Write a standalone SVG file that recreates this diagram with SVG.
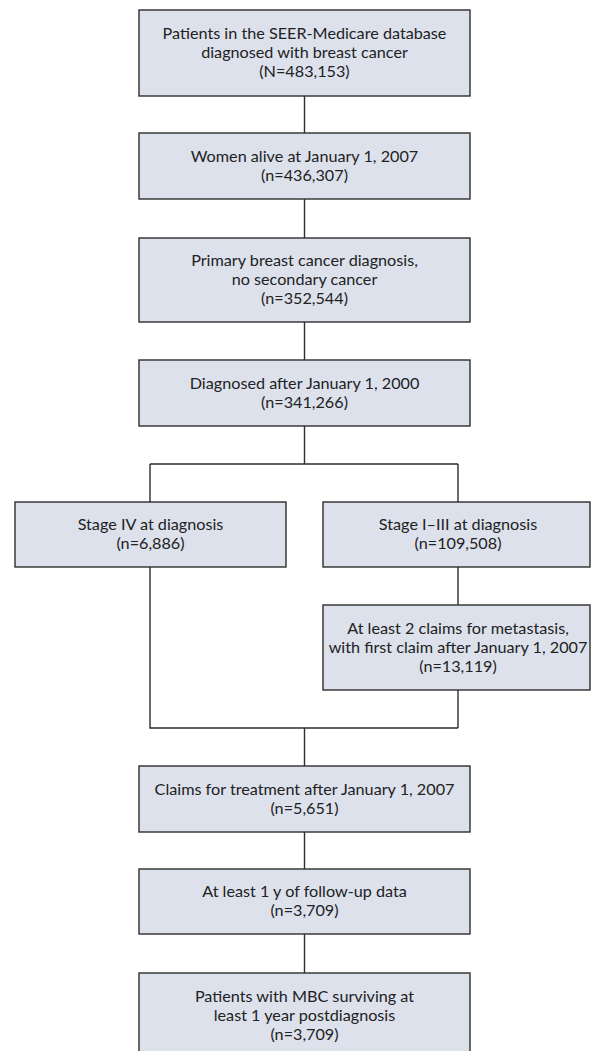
<svg xmlns="http://www.w3.org/2000/svg" width="591" height="1051" viewBox="0 0 591 1051">
<style>
.box{fill:#dce1ec;stroke:#2e2e2e;stroke-width:1.4}
.lbl{font-family:Lato,"Open Sans","Liberation Sans",sans-serif;font-size:16.2px;fill:#222;text-anchor:middle}
.con{stroke:#2e2e2e;stroke-width:1.4;fill:none}
</style>
<rect width="591" height="1051" fill="#ffffff"/>
<g id="connectors">
<path class="con" d="M304.5 96V133M304.5 199V238M304.5 322V360M304.5 426V464M150 464H458M150 464V502M458 464V502M458 567V605M150 567V728H458M458 690V728M304.5 728V766M304.5 832V869M304.5 934V973"/>
</g>
<g id="n1"><rect class="box" x="139" y="10" width="331" height="86"/>
<text class="lbl" x="304.5" y="39">Patients in the SEER-Medicare database</text>
<text class="lbl" x="304.5" y="58">diagnosed with breast cancer</text>
<text class="lbl" x="304.5" y="77">(N=483,153)</text></g>
<g id="n2"><rect class="box" x="139" y="133" width="331" height="66"/>
<text class="lbl" x="304.5" y="162">Women alive at January 1, 2007</text>
<text class="lbl" x="304.5" y="181">(n=436,307)</text></g>
<g id="n3"><rect class="box" x="139" y="238" width="331" height="84"/>
<text class="lbl" x="304.5" y="266">Primary breast cancer diagnosis,</text>
<text class="lbl" x="304.5" y="285">no secondary cancer</text>
<text class="lbl" x="304.5" y="304">(n=352,544)</text></g>
<g id="n4"><rect class="box" x="139" y="360" width="331" height="66"/>
<text class="lbl" x="304.5" y="389">Diagnosed after January 1, 2000</text>
<text class="lbl" x="304.5" y="408">(n=341,266)</text></g>
<g id="n5"><rect class="box" x="15" y="502" width="271" height="65"/>
<text class="lbl" x="150.5" y="530">Stage IV at diagnosis</text>
<text class="lbl" x="150.5" y="549">(n=6,886)</text></g>
<g id="n6"><rect class="box" x="323" y="502" width="267" height="65"/>
<text class="lbl" x="458" y="530">Stage I–III at diagnosis</text>
<text class="lbl" x="458" y="549">(n=109,508)</text></g>
<g id="n7"><rect class="box" x="323" y="605" width="267" height="85"/>
<text class="lbl" x="458" y="634">At least 2 claims for metastasis,</text>
<text class="lbl" x="458" y="653">with first claim after January 1, 2007</text>
<text class="lbl" x="458" y="672">(n=13,119)</text></g>
<g id="n8"><rect class="box" x="139" y="766" width="331" height="66"/>
<text class="lbl" x="304.5" y="795">Claims for treatment after January 1, 2007</text>
<text class="lbl" x="304.5" y="814">(n=5,651)</text></g>
<g id="n9"><rect class="box" x="139" y="869" width="331" height="65"/>
<text class="lbl" x="304.5" y="897">At least 1 y of follow-up data</text>
<text class="lbl" x="304.5" y="916">(n=3,709)</text></g>
<g id="n10"><rect class="box" x="139" y="973" width="331" height="90"/>
<text class="lbl" x="304.5" y="1002">Patients with MBC surviving at</text>
<text class="lbl" x="304.5" y="1021">least 1 year postdiagnosis</text>
<text class="lbl" x="304.5" y="1040">(n=3,709)</text></g>
</svg>
